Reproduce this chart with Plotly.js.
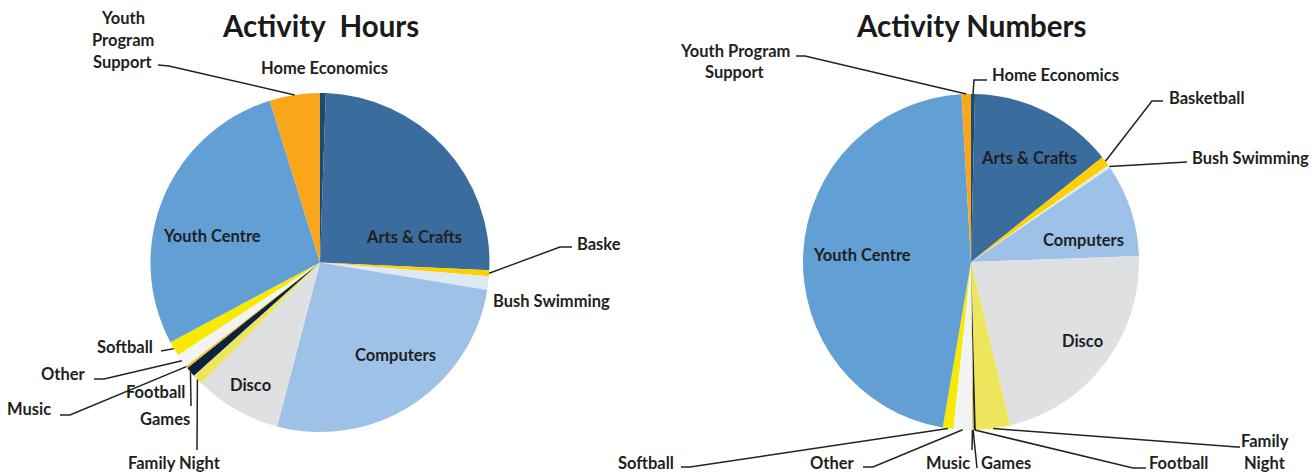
<!DOCTYPE html>
<html><head><meta charset="utf-8">
<script src="https://cdn.plot.ly/plotly-3.0.1.min.js"></script>
<style>html,body{margin:0;padding:0;background:#fff}#chart{width:1312px;height:474px}</style>
</head><body><div id="chart"></div>
<script>
// ---------- data ----------
const categories = ["Home Economics","Arts & Crafts","Basketball","Bush Swimming","Computers","Disco","Family Night","Football","Games","Music","Other","Softball","Youth Centre","Youth Program Support"];
const hoursShare   = [0.55, 25.2, 0.55, 1.3, 26.5, 8.3, 1.0, 0.95, 0.1, 0.1, 1.3, 1.4, 28.0, 4.8];
const numbersShare = [0.38, 13.9, 0.95, 0.3, 8.9, 21.8, 3.3, 0.22, 0.08, 0.05, 1.8, 1.0, 46.4, 0.9];
const sliceColors  = ["#1B4A72","#3A6D9E","#FFD000","#DEE9F4","#9DC1E7","#DFE0E2","#EDE55C","#0B2342","#FFC000","#E8B400","#F2F4F3","#F7E900","#629FD5","#F9A61B"];
const chartTitles  = ["Activity  Hours","Activity Numbers"];

// ---------- layout geometry ----------
const W = 1312, H = 474;
const FONT = 'Lato, "Open Sans", sans-serif';
const TEXT = '#1f1f1f';
const LABEL_SIZE = 16.5;
const TITLE_SIZE = 29.5;
const pies = [{cx:320, cy:262.5, r:169.5, titleY:25}, {cx:971, cy:262, r:168, titleY:25}];

// label placement per chart (pixel positions of labels and leader elbows)
const labelLayouts = [
  {
    "Home Economics": {x:324, y:68, a:"center"},
    "Arts & Crafts": {x:414, y:237, a:"center"},
    "Basketball": {x:575, y:244, a:"left", clip:5, leader:[[560,247],[572,247]]},
    "Bush Swimming": {x:491, y:301, a:"left"},
    "Computers": {x:395, y:355, a:"center"},
    "Disco": {x:250, y:385, a:"center"},
    "Family Night": {x:174, y:463, a:"center", leader:[[197,450]]},
    "Football": {x:187, y:392, a:"right", leader:[[191,406]]},
    "Games": {x:192, y:419, a:"right"},
    "Music": {x:53, y:409, a:"right", leader:[[70,415],[60,415]]},
    "Other": {x:88, y:374, a:"right", leader:[[104,379],[94,379]]},
    "Softball": {x:155, y:347, a:"right", leader:[[161,351]]},
    "Youth Centre": {x:212, y:236, a:"center"},
    "Youth Program Support": {x:123, y:18, a:"center", lines:[1,1,1], dy:22, leader:[[169,66],[158,65]]}
  },
  {
    "Home Economics": {x:990, y:75, a:"left", leader:[[974,80],[987,80]]},
    "Arts & Crafts": {x:1029, y:158, a:"center"},
    "Basketball": {x:1167, y:98, a:"left", leader:[[1152,101],[1163,101]]},
    "Bush Swimming": {x:1190, y:158, a:"left", leader:[[1187,162]]},
    "Computers": {x:1083, y:240, a:"center"},
    "Disco": {x:1082, y:341, a:"center"},
    "Family Night": {x:1265, y:441, a:"center", lines:[1,1], dy:22, leader:[[1237,447],[1240,447]]},
    "Football": {x:1147, y:463, a:"left", leader:[[1133,468],[1146,468]]},
    "Games": {x:979, y:463, a:"left", leader:[[977,468]]},
    "Music": {x:972, y:463, a:"right", leader:[[972,450]]},
    "Other": {x:857, y:463, a:"right", leader:[[873,467],[863,467]]},
    "Softball": {x:676, y:463, a:"right", leader:[[690,467],[681,467]]},
    "Youth Centre": {x:862, y:255, a:"center"},
    "Youth Program Support": {x:735, y:51, a:"center", lines:[2,1], dy:21, leader:[[805,56],[796,56]]}
  }
];

const px = x => x / W;
const py = y => 1 - y / H;

function midAngles(vals){
  const tot = vals.reduce((s,v)=>s+v,0);
  let acc = 0;
  return vals.map(v => { const a = (acc + v/2) / tot * 360; acc += v; return a; });
}

const seriesList = [hoursShare, numbersShare];
const traces = [], annotations = [], shapes = [];

seriesList.forEach((vals, k) => {
  const g = pies[k];
  traces.push({
    type: 'pie', labels: categories, values: vals, sort: false, direction: 'clockwise', rotation: 0,
    marker: {colors: sliceColors, line: {width: 0}}, textinfo: 'none', hoverinfo: 'label+percent',
    showlegend: false, automargin: false,
    domain: {x: [px(g.cx - g.r), px(g.cx + g.r)], y: [py(g.cy + g.r), py(g.cy - g.r)]}
  });
  annotations.push({
    xref:'paper', yref:'paper', x: px(g.cx), y: py(g.titleY), xanchor:'center', yanchor:'middle',
    text: chartTitles[k], showarrow:false, font:{family:FONT, size:TITLE_SIZE, color:'#1a1a1a', weight:700}
  });
  const mids = midAngles(vals);
  categories.forEach((cat, i) => {
    const L = labelLayouts[k][cat];
    if (!L) return;
    let text = L.clip ? cat.slice(0, L.clip) : cat;
    const words = text.split(' ');
    let lines = [text];
    if (L.lines) { lines = []; let p = 0; L.lines.forEach(n => { lines.push(words.slice(p, p+n).join(' ')); p += n; }); }
    lines.forEach((t, j) => {
      annotations.push({
        xref:'paper', yref:'paper', x: px(L.x), y: py(L.y + j*(L.dy||0)), xanchor: L.a, yanchor:'middle',
        text: t, showarrow:false, font:{family:FONT, size:LABEL_SIZE, color:TEXT, weight:700}
      });
    });
    if (L.leader) {
      const ang = mids[i] * Math.PI / 180;
      const ax = g.cx + g.r * Math.sin(ang), ay = g.cy - g.r * Math.cos(ang);
      let path = `M ${px(ax)},${py(ay)}`;
      L.leader.forEach(p => { path += ` L ${px(p[0])},${py(p[1])}`; });
      shapes.push({type:'path', xref:'paper', yref:'paper', path, line:{color:'#222', width:1.5}});
    }
  });
});

Plotly.newPlot('chart', traces, {
  width: W, height: H, margin: {l:0, r:0, t:0, b:0, pad:0},
  paper_bgcolor:'#fff', plot_bgcolor:'#fff', showlegend:false,
  annotations, shapes, font:{family:FONT}
}, {displayModeBar:false, responsive:false});
</script></body></html>
